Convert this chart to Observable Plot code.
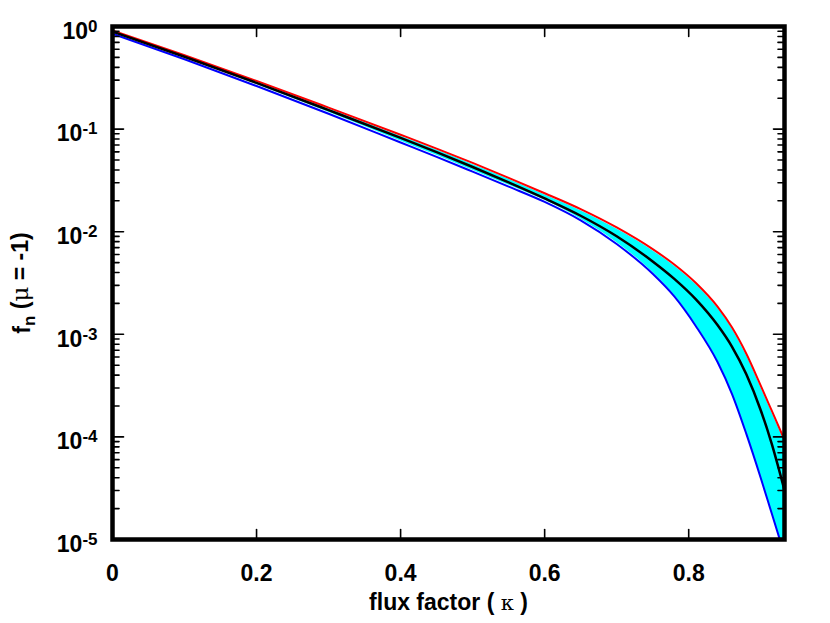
<!DOCTYPE html>
<html><head><meta charset="utf-8">
<script src="https://cdn.jsdelivr.net/npm/d3@7"></script>
<script src="https://cdn.jsdelivr.net/npm/@observablehq/plot@0.6"></script>
<style>
body{margin:0;background:#fff}
#chart svg{font-family:"Liberation Sans",Arial,Helvetica,sans-serif;font-weight:bold;overflow:visible}
</style>
</head><body><div id="chart"></div>
<script>
// flux factor values (x)
const kappa = [0, 0.1, 0.2, 0.3, 0.4, 0.45, 0.5, 0.55, 0.6, 0.65, 0.7, 0.75, 0.78, 0.81, 0.84, 0.86, 0.88, 0.9, 0.915, 0.933];
// red (upper) curve
const fnUpper = [0.912, 0.525, 0.295, 0.162, 0.0881, 0.0646, 0.0468, 0.0335, 0.0237, 0.0166, 0.011, 0.00676, 0.00479, 0.00316, 0.00186, 0.00117, 6.46e-4, 3.16e-4, 1.82e-4, 9.33e-5];
// black (central) curve
const fnMean = [0.891, 0.507, 0.282, 0.153, 0.0822, 0.0596, 0.0427, 0.0302, 0.0211, 0.0143, 0.00902, 0.00513, 0.00347, 0.00219, 0.00123, 7.59e-4, 4.07e-4, 1.82e-4, 8.71e-5, 3.02e-5];
// blue (lower) curve
const fnLower = [0.851, 0.479, 0.263, 0.141, 0.0741, 0.0537, 0.0385, 0.0275, 0.0195, 0.0129, 0.00759, 0.00389, 0.00234, 0.0012, 5.37e-4, 2.63e-4, 1.07e-4, 3.98e-5, 1.82e-5, 7.1e-6];
// cyan scatter band (upper and lower edges)
const bandHigh = [0.881, 0.507, 0.285, 0.157, 0.0851, 0.0624, 0.0452, 0.0324, 0.0229, 0.016, 0.0106, 0.00653, 0.00462, 0.00305, 0.0018, 0.00114, 6.24e-4, 3.05e-4, 1.76e-4, 9.0e-5];
const bandLow = [0.871, 0.495, 0.272, 0.146, 0.0767, 0.0556, 0.0398, 0.0285, 0.0202, 0.0133, 0.00785, 0.00403, 0.00242, 0.00124, 5.56e-4, 2.72e-4, 1.1e-4, 4.1e-5, 1.88e-5, 7.4e-6];

const xTicks = [0, 0.2, 0.4, 0.6, 0.8];
const xTickLabels = ["0", "0.2", "0.4", "0.6", "0.8"];
const yTicks = [1, 0.1, 0.01, 0.001, 1e-4, 1e-5];
const yTickLabels = ["10^0", "10^-1", "10^-2", "10^-3", "10^-4", "10^-5"];
const xLabel = "flux factor ( κ )";
const yLabel = "f_n (μ = -1)";

const W = 830, H = 623, mL = 112, mR = 46, mT = 26, mB = 84;

const rows = kappa.map((k, i) => ({k, up: fnUpper[i], mean: fnMean[i], low: fnLower[i], bh: bandHigh[i], bl: bandLow[i]}));
const yMinor = d3.scaleLog().domain([1e-5, 1]).ticks().filter(v => !yTicks.some(t => Math.abs(t - v) / t < 1e-6));
const xInner = xTicks.filter(v => v > 0);

// inward tick shape for Plot.vector
const tickShape = {draw(context, l) { context.moveTo(0, 0); context.lineTo(0, -l); }};
const tk = (data, channel, frameAnchor, rotate, length) =>
  Plot.vector(data, {[channel]: d => d, frameAnchor, rotate, length, anchor: "start", shape: tickShape, stroke: "black", strokeWidth: 1.6});

const chart = Plot.plot({
  width: W, height: H,
  marginLeft: mL, marginRight: mR, marginTop: mT, marginBottom: mB,
  x: {domain: [0, 0.933], axis: null},
  y: {type: "log", domain: [1e-5, 1], axis: null},
  marks: [
    Plot.areaY(rows, {x: "k", y1: "bl", y2: "bh", fill: "#00ffff", curve: "monotone-x", clip: true}),
    Plot.line(rows, {x: "k", y: "up", stroke: "#ff0000", strokeWidth: 2, curve: "monotone-x", clip: true}),
    Plot.line(rows, {x: "k", y: "low", stroke: "#0000ff", strokeWidth: 2, curve: "monotone-x", clip: true}),
    Plot.line(rows, {x: "k", y: "mean", stroke: "#000000", strokeWidth: 2.5, curve: "monotone-x", clip: true}),
    // inward ticks on all four sides
    tk(xInner, "x", "bottom", 0, 10),
    tk(xInner, "x", "top", 180, 10),
    tk(yTicks, "y", "left", 90, 11),
    tk(yTicks, "y", "right", -90, 11),
    tk(yMinor, "y", "left", 90, 6.5),
    tk(yMinor, "y", "right", -90, 6.5),
    Plot.frame({stroke: "black", strokeWidth: 4.5}),
    // tick labels
    Plot.text(xTicks, {x: d => d, text: (d, i) => xTickLabels[i], frameAnchor: "bottom", dy: 41, fontSize: 23, fontWeight: "bold", fill: "black"}),
    Plot.text(yTicks, {y: d => d, text: (d, i) => yTickLabels[i], frameAnchor: "left", dx: -15, dy: 5, textAnchor: "end", fontSize: 23, fontWeight: "bold", fill: "black"}),
    // axis titles
    Plot.text([xLabel], {text: d => d, frameAnchor: "bottom", dy: 70, fontSize: 23, fontWeight: "bold", fill: "black"}),
    Plot.text([yLabel], {text: d => d, frameAnchor: "left", textAnchor: "middle", dx: -90, rotate: -90, fontSize: 23, fontWeight: "bold", fill: "black"})
  ]
});
document.getElementById("chart").appendChild(chart);

// rich text: superscripts, subscript, greek letters
d3.select(chart).selectAll("text").each(function () {
  const t = this.textContent;
  const s = d3.select(this);
  if (t.includes("^")) {
    const [base, exp] = t.split("^");
    s.text("");
    s.append("tspan").text(base);
    s.append("tspan").attr("dy", "-0.42em").attr("font-size", 17).text(exp);
  } else if (t === xLabel) {
    const [a, b] = t.split("κ");
    s.text("");
    s.append("tspan").text(a);
    s.append("tspan").attr("font-family", "DejaVu Serif").attr("font-weight", "normal").attr("font-size", 21).text("κ");
    s.append("tspan").text(b);
  } else if (t === yLabel) {
    s.text("");
    s.append("tspan").text("f");
    s.append("tspan").attr("dy", "0.3em").attr("font-size", 17).text("n");
    s.append("tspan").attr("dy", "-0.3em").text(" (");
    s.append("tspan").attr("font-family", "DejaVu Serif").attr("font-weight", "normal").text("μ");
    s.append("tspan").text(" = -1)");
  }
});
</script>
</body></html>
